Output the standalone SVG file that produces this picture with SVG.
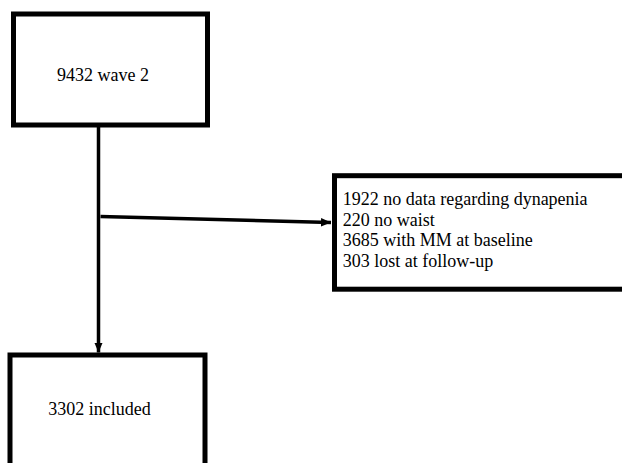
<svg xmlns="http://www.w3.org/2000/svg" width="622" height="463" viewBox="0 0 622 463">
<style>
.box{fill:#fff;stroke:#000;stroke-width:5}
.c{stroke:#000;stroke-width:3.5;fill:none}
</style>
<defs>
<marker id="ah" markerUnits="userSpaceOnUse" markerWidth="11" markerHeight="10" refX="10" refY="5" orient="auto">
<path d="M0,0.8 L10,5 L0,9.2 Z" fill="#000"/>
</marker>
</defs>
<rect width="622" height="463" fill="#fff"/>
<g id="connectors">
<line class="c" x1="98.5" y1="127" x2="98.5" y2="352.5" marker-end="url(#ah)"/>
<line class="c" x1="100.5" y1="216.5" x2="331" y2="222.5" marker-end="url(#ah)"/>
</g>
<g font-family="Liberation Serif, Times New Roman, serif" font-size="18" fill="#000">
<g id="n1">
<rect class="box" x="13.5" y="14" width="194" height="111"/>
<text x="57" y="81">9432 wave 2</text>
</g>
<g id="n2">
<rect class="box" x="334.5" y="175.7" width="300" height="113.5"/>
<text x="342.7" y="205">1922 no data regarding dynapenia</text>
<text x="342.7" y="225.6">220 no waist</text>
<text x="342.7" y="246.2">3685 with MM at baseline</text>
<text x="342.7" y="266.8">303 lost at follow-up</text>
</g>
<g id="n3">
<rect class="box" x="10" y="355" width="195" height="130"/>
<text x="48.3" y="415">3302 included</text>
</g>
</g>
</svg>
